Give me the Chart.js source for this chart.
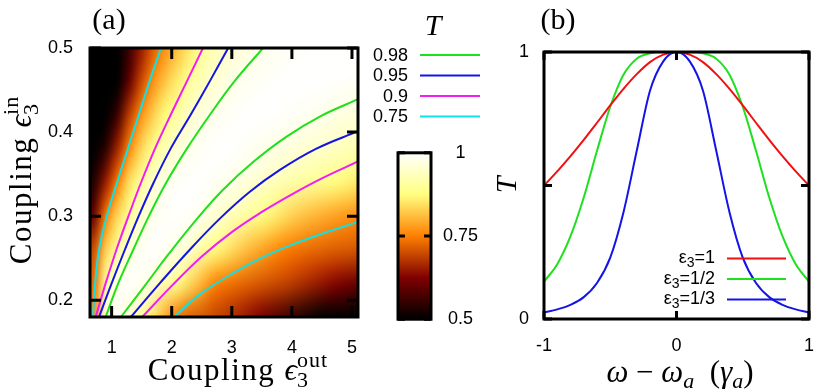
<!DOCTYPE html>
<html>
<head>
<meta charset="utf-8">
<script src="https://cdn.jsdelivr.net/npm/chart.js@4.4.1/dist/chart.umd.min.js"></script>
<style>
  body { margin: 0; background: #fff; }
  #wrap { position: relative; width: 830px; height: 392px; overflow: hidden; }
  canvas { position: absolute; }
</style>
</head>
<body>
<div id="wrap">
  <canvas id="mapA" width="490" height="392" style="left:0;top:0"></canvas>
  <canvas id="barA" width="110" height="212" style="left:380px;top:130px"></canvas>
  <canvas id="specB" width="340" height="392" style="left:490px;top:0"></canvas>
</div>
<script>
// ---- panel (a): transmission map T(eps_out, eps_in) ----
const couplingOut = [0.7, 0.9, 1.1, 1.3, 1.5, 1.7, 1.9, 2.1, 2.3, 2.5, 2.7, 2.9, 3.1, 3.3, 3.5, 3.7, 3.9, 4.1, 4.3, 4.5, 4.7, 4.9, 5.1];
const couplingIn = [0.18, 0.22, 0.26, 0.30, 0.34, 0.38, 0.42, 0.46, 0.50];

// one row of T per couplingIn value
const tIn018 = [0.76, 0.978, 0.99, 0.955, 0.902, 0.85, 0.79, 0.74, 0.72, 0.71, 0.695, 0.68, 0.66, 0.64, 0.615, 0.59, 0.565, 0.54, 0.515, 0.495, 0.48, 0.465, 0.45];
const tIn022 = [0.73, 0.90, 0.98, 0.998, 0.985, 0.96, 0.92, 0.885, 0.84, 0.80, 0.755, 0.74, 0.73, 0.72, 0.71, 0.70, 0.69, 0.675, 0.66, 0.645, 0.63, 0.615, 0.60];
const tIn026 = [0.70, 0.83, 0.905, 0.965, 0.99, 0.999, 0.988, 0.97, 0.948, 0.91, 0.88, 0.855, 0.83, 0.805, 0.785, 0.765, 0.748, 0.738, 0.73, 0.724, 0.718, 0.714, 0.71];
const tIn030 = [0.60, 0.745, 0.84, 0.90, 0.952, 0.981, 0.995, 0.999, 0.992, 0.978, 0.958, 0.94, 0.922, 0.90, 0.88, 0.86, 0.84, 0.822, 0.807, 0.795, 0.783, 0.773, 0.764];
const tIn034 = [0.53, 0.65, 0.75, 0.85, 0.905, 0.95, 0.98, 0.993, 0.999, 0.997, 0.99, 0.982, 0.972, 0.96, 0.948, 0.933, 0.92, 0.91, 0.90, 0.89, 0.878, 0.867, 0.856];
const tIn038 = [0.47, 0.54, 0.66, 0.76, 0.84, 0.89, 0.93, 0.958, 0.981, 0.992, 0.998, 1.0, 0.995, 0.988, 0.981, 0.975, 0.968, 0.96, 0.953, 0.946, 0.938, 0.93, 0.922];
const tIn042 = [0.45, 0.48, 0.56, 0.69, 0.77, 0.83, 0.875, 0.91, 0.945, 0.968, 0.982, 0.99, 0.996, 0.999, 1.0, 0.998, 0.994, 0.99, 0.985, 0.98, 0.974, 0.968, 0.962];
const tIn046 = [0.45, 0.46, 0.50, 0.60, 0.70, 0.77, 0.82, 0.86, 0.90, 0.93, 0.953, 0.97, 0.982, 0.988, 0.993, 0.996, 0.998, 0.999, 1.0, 1.0, 0.998, 0.995, 0.991];
const tIn050 = [0.45, 0.45, 0.47, 0.56, 0.65, 0.72, 0.77, 0.81, 0.855, 0.898, 0.925, 0.947, 0.96, 0.972, 0.98, 0.985, 0.99, 0.993, 0.995, 0.997, 0.998, 0.999, 0.999];
const transmission = [tIn018, tIn022, tIn026, tIn030, tIn034, tIn038, tIn042, tIn046, tIn050];

// contour lines, [eps_out, eps_in] pairs
const lvl98Left = [[0.90, 0.18], [1.11, 0.22], [1.36, 0.26], [1.62, 0.30], [1.91, 0.34], [2.25, 0.38], [2.63, 0.42], [3.04, 0.46], [3.52, 0.50]];
const lvl98Right = [[1.154, 0.18], [1.56, 0.218], [1.95, 0.255], [2.4, 0.295], [2.85, 0.331], [3.35, 0.364], [3.9, 0.394], [4.48, 0.419], [5.1, 0.439]];
const lvl95Left = [[0.79, 0.18], [1.0, 0.22], [1.22, 0.26], [1.45, 0.30], [1.70, 0.34], [1.98, 0.38], [2.31, 0.42], [2.63, 0.46], [2.94, 0.50]];
const lvl95Right = [[1.32, 0.18], [1.8, 0.22], [2.3, 0.26], [2.8, 0.297], [3.3, 0.329], [3.8, 0.355], [4.4, 0.38], [5.1, 0.401]];
const lvl90Left = [[0.735, 0.18], [0.90, 0.22], [1.08, 0.26], [1.28, 0.30], [1.49, 0.34], [1.72, 0.38], [1.98, 0.42], [2.25, 0.46], [2.52, 0.50]];
const lvl90Right = [[1.51, 0.18], [2.0, 0.217], [2.5, 0.252], [3.0, 0.281], [3.5, 0.305], [4.0, 0.326], [4.5, 0.345], [5.1, 0.365]];
const lvl75Left = [[0.69, 0.18], [0.725, 0.22], [0.79, 0.26], [0.92, 0.30], [1.09, 0.34], [1.27, 0.38], [1.45, 0.42], [1.63, 0.46], [1.82, 0.50]];
const lvl75Right = [[2.04, 0.18], [2.45, 0.206], [2.9, 0.227], [3.4, 0.247], [3.93, 0.264], [4.5, 0.279], [5.1, 0.293]];

const levelLabels = ['0.98', '0.95', '0.9', '0.75'];
const levelColors = ['#1fe01f', '#1414e6', '#f01ef0', '#14e0e0'];
const levelLines = [[lvl98Left, lvl98Right], [lvl95Left, lvl95Right], [lvl90Left, lvl90Right], [lvl75Left, lvl75Right]];

const outTicks = [1, 2, 3, 4, 5];
const inTicks = [0.2, 0.3, 0.4, 0.5];
const barTicks = [0.5, 0.75, 1];

// ---- panel (b): transmission spectra ----
const detuning = [-1, -0.9, -0.8, -0.7, -0.6, -0.5, -0.4, -0.3, -0.2, -0.1, 0, 0.1, 0.2, 0.3, 0.4, 0.5, 0.6, 0.7, 0.8, 0.9, 1];
const tEps1 = [0.5, 0.553, 0.61, 0.671, 0.735, 0.8, 0.862, 0.917, 0.962, 0.99, 1, 0.99, 0.962, 0.917, 0.862, 0.8, 0.735, 0.671, 0.61, 0.553, 0.5];
const tEpsHalf = [0.14, 0.205, 0.31, 0.455, 0.63, 0.795, 0.915, 0.975, 0.995, 1.0, 1.0, 1.0, 0.995, 0.975, 0.915, 0.795, 0.63, 0.455, 0.31, 0.205, 0.14];
const tEpsThird = [0.025, 0.036, 0.053, 0.082, 0.135, 0.23, 0.40, 0.63, 0.855, 0.965, 1, 0.965, 0.855, 0.63, 0.40, 0.23, 0.135, 0.082, 0.053, 0.036, 0.025];
const specLabels = ['1', '1/2', '1/3'];
const specColors = ['#f01010', '#1fe01f', '#1414e6'];
const detTicks = [-1, 0, 1];
const tTicks = [0, 1];
const tMarks = [0, 0.5, 1];

const SERIF = '"Liberation Serif", "DejaVu Serif", serif';
const SANS = '"Liberation Sans", Arial, sans-serif';
Chart.defaults.font.family = SANS;
Chart.defaults.font.size = 18;
Chart.defaults.color = '#000';

function afmhot(t) {
  const c = Math.min(1, Math.max(0, (t - 0.5) / 0.5));
  const f = (v) => Math.round(255 * Math.min(1, Math.max(0, v)));
  return [f(2 * c), f(2 * c - 0.5), f(2 * c - 1)];
}

// text pieces with sub/superscripts; a "stack" piece shares its x with the next one
function drawMath(ctx, pieces, x, y, align) {
  let pos = 0;
  let stackW = null;
  const placed = pieces.map((p) => {
    ctx.font = p.f;
    ctx.letterSpacing = p.ls || '0px';
    const w = ctx.measureText(p.t).width;
    const at = pos;
    if (p.stack) {
      stackW = w;
    } else {
      pos += stackW !== null ? Math.max(w, stackW) : w;
      stackW = null;
    }
    return { ...p, at };
  });
  const start = align === 'center' ? x - pos / 2 : align === 'right' ? x - pos : x;
  ctx.textAlign = 'left';
  placed.forEach((p) => {
    ctx.font = p.f;
    ctx.letterSpacing = p.ls || '0px';
    ctx.fillText(p.t, start + p.at, y + (p.dy || 0));
  });
  ctx.letterSpacing = '0px';
}

function fixedTicks(values) {
  return (scale) => {
    scale.ticks = values.map((v) => ({ value: v }));
  };
}
const plainLabel = (v) => String(v);

function heatImage() {
  const nx = couplingOut.length;
  const ny = couplingIn.length;
  const off = document.createElement('canvas');
  off.width = nx;
  off.height = ny;
  const octx = off.getContext('2d');
  const img = octx.createImageData(nx, ny);
  for (let r = 0; r < ny; r++) {
    const row = transmission[ny - 1 - r];
    for (let c = 0; c < nx; c++) {
      const [R, G, B] = afmhot(row[c]);
      const k = 4 * (r * nx + c);
      img.data[k] = R;
      img.data[k + 1] = G;
      img.data[k + 2] = B;
      img.data[k + 3] = 255;
    }
  }
  octx.putImageData(img, 0, 0);
  return off;
}

const mapPlugin = {
  id: 'mapPlugin',
  beforeDatasetsDraw(chart) {
    const { ctx, chartArea: a, scales: { x, y } } = chart;
    const hx = (couplingOut[1] - couplingOut[0]) / 2;
    const hy = (couplingIn[1] - couplingIn[0]) / 2;
    const left = x.getPixelForValue(couplingOut[0] - hx);
    const right = x.getPixelForValue(couplingOut[couplingOut.length - 1] + hx);
    const top = y.getPixelForValue(couplingIn[couplingIn.length - 1] + hy);
    const bottom = y.getPixelForValue(couplingIn[0] - hy);
    ctx.save();
    ctx.beginPath();
    ctx.rect(a.left, a.top, a.right - a.left, a.bottom - a.top);
    ctx.clip();
    ctx.imageSmoothingEnabled = true;
    ctx.imageSmoothingQuality = 'high';
    ctx.drawImage(heatImage(), left, top, right - left, bottom - top);
    ctx.restore();
  },
  afterDatasetsDraw(chart) {
    const { ctx, chartArea: a, scales: { x, y } } = chart;
    ctx.save();
    ctx.strokeStyle = '#000';
    ctx.lineWidth = 3;
    ctx.beginPath();
    outTicks.forEach((v) => {
      const px = x.getPixelForValue(v);
      ctx.moveTo(px, a.bottom); ctx.lineTo(px, a.bottom - 11);
      ctx.moveTo(px, a.top); ctx.lineTo(px, a.top + 11);
    });
    inTicks.forEach((v) => {
      const py = y.getPixelForValue(v);
      ctx.moveTo(a.left, py); ctx.lineTo(a.left + 11, py);
      ctx.moveTo(a.right, py); ctx.lineTo(a.right - 11, py);
    });
    ctx.stroke();
    ctx.strokeRect(a.left, a.top, a.right - a.left, a.bottom - a.top);
    ctx.restore();
  },
  afterDraw(chart) {
    const { ctx } = chart;
    ctx.save();
    ctx.fillStyle = '#000';
    ctx.textBaseline = 'alphabetic';
    ctx.font = `30px ${SERIF}`;
    ctx.textAlign = 'center';
    ctx.fillText('(a)', 109, 29);
    const title = (sup) => [
      { t: 'Coupling ', f: `31px ${SERIF}`, ls: '1.5px' },
      { t: 'ϵ', f: `italic 31px ${SERIF}` },
      { t: '3', f: `22px ${SERIF}`, dy: 7, stack: true },
      { t: sup, f: `22px ${SERIF}`, dy: -13, ls: '1px' },
    ];
    drawMath(ctx, title('out'), 238, 380, 'center');
    ctx.save();
    ctx.translate(31, 180);
    ctx.rotate(-Math.PI / 2);
    drawMath(ctx, title('in'), 0, 0, 'center');
    ctx.restore();
    // legend of the contour levels
    ctx.font = `italic 30px ${SERIF}`;
    ctx.textAlign = 'center';
    ctx.fillText('T', 433, 35);
    ctx.font = `18px ${SANS}`;
    ctx.textAlign = 'right';
    ctx.textBaseline = 'middle';
    levelLabels.forEach((lab, i) => {
      const ly = 55 + i * 20.5;
      ctx.fillText(lab, 408, ly + 1);
      ctx.strokeStyle = levelColors[i];
      ctx.lineWidth = 2;
      ctx.beginPath();
      ctx.moveTo(420, ly);
      ctx.lineTo(480, ly);
      ctx.stroke();
    });
    ctx.restore();
  },
};

const mapDatasets = [];
levelLines.forEach((pair, i) => {
  pair.forEach((pts) => {
    mapDatasets.push({
      label: levelLabels[i],
      data: pts.map(([px, py]) => ({ x: px, y: py })),
      showLine: true,
      borderColor: levelColors[i],
      borderWidth: 2,
      pointRadius: 0,
      tension: 0.4,
    });
  });
});

new Chart(document.getElementById('mapA'), {
  type: 'scatter',
  data: { datasets: mapDatasets },
  options: {
    responsive: false,
    animation: false,
    devicePixelRatio: 1,
    layout: { padding: { top: 48, right: 132, left: 0, bottom: 0 } },
    plugins: { legend: { display: false }, tooltip: { enabled: false } },
    scales: {
      x: {
        type: 'linear', min: 0.64, max: 5.1,
        grid: { display: false, drawTicks: false }, border: { display: false },
        afterBuildTicks: fixedTicks(outTicks),
        afterFit: (s) => { s.height = 75; },
        ticks: { padding: 20, maxRotation: 0, autoSkip: false, callback: plainLabel },
      },
      y: {
        type: 'linear', min: 0.18, max: 0.5,
        grid: { display: false, drawTicks: false }, border: { display: false },
        afterBuildTicks: fixedTicks(inTicks),
        afterFit: (s) => { s.width = 90; },
        ticks: { padding: 17, autoSkip: false, callback: plainLabel },
      },
    },
  },
  plugins: [mapPlugin],
});

// ---- colour bar ----
const barFrame = {
  id: 'barFrame',
  afterDatasetsDraw(chart) {
    const { ctx, chartArea: a, scales: { y } } = chart;
    ctx.save();
    ctx.strokeStyle = '#000';
    ctx.lineWidth = 3;
    ctx.beginPath();
    barTicks.forEach((v) => {
      const py = y.getPixelForValue(v);
      ctx.moveTo(a.left, py); ctx.lineTo(a.left + 7, py);
      ctx.moveTo(a.right, py); ctx.lineTo(a.right - 7, py);
    });
    ctx.stroke();
    ctx.strokeRect(a.left, a.top, a.right - a.left, a.bottom - a.top);
    ctx.restore();
  },
};

new Chart(document.getElementById('barA'), {
  type: 'bar',
  data: {
    labels: ['T'],
    datasets: [{
      data: [[barTicks[0], barTicks[barTicks.length - 1]]],
      backgroundColor: (context) => {
        const { ctx, chartArea, scales } = context.chart;
        if (!chartArea) return '#fff';
        const y0 = scales.y.getPixelForValue(0.5);
        const y1 = scales.y.getPixelForValue(1);
        const g = ctx.createLinearGradient(0, y0, 0, y1);
        for (let i = 0; i <= 20; i++) {
          const [r, gg, b] = afmhot(0.5 + i * 0.025);
          g.addColorStop(i / 20, `rgb(${r},${gg},${b})`);
        }
        return g;
      },
      borderWidth: 0,
      barPercentage: 1,
      categoryPercentage: 1,
    }],
  },
  options: {
    responsive: false,
    animation: false,
    devicePixelRatio: 1,
    layout: { padding: { top: 12, bottom: 14, left: 18, right: 0 } },
    plugins: { legend: { display: false }, tooltip: { enabled: false } },
    scales: {
      x: { display: false },
      y: {
        position: 'right', min: 0.5, max: 1,
        grid: { display: false, drawTicks: false }, border: { display: false },
        afterBuildTicks: fixedTicks(barTicks),
        afterFit: (s) => { s.width = 59; },
        ticks: { padding: 12, crossAlign: 'center', autoSkip: false, callback: plainLabel },
      },
    },
  },
  plugins: [barFrame],
});

// ---- panel (b) ----
const specPlugin = {
  id: 'specPlugin',
  afterDatasetsDraw(chart) {
    const { ctx, chartArea: a, scales: { x, y } } = chart;
    ctx.save();
    ctx.strokeStyle = '#000';
    ctx.lineWidth = 3;
    ctx.beginPath();
    detTicks.forEach((v) => {
      const px = x.getPixelForValue(v);
      ctx.moveTo(px, a.bottom); ctx.lineTo(px, a.bottom - 8);
      ctx.moveTo(px, a.top); ctx.lineTo(px, a.top + 8);
    });
    tMarks.forEach((v) => {
      const py = y.getPixelForValue(v);
      ctx.moveTo(a.left, py); ctx.lineTo(a.left + 8, py);
      ctx.moveTo(a.right, py); ctx.lineTo(a.right - 8, py);
    });
    ctx.stroke();
    ctx.strokeRect(a.left, a.top, a.right - a.left, a.bottom - a.top);
    ctx.restore();
  },
  afterDraw(chart) {
    const { ctx } = chart;
    ctx.save();
    ctx.fillStyle = '#000';
    ctx.textBaseline = 'alphabetic';
    ctx.font = `30px ${SERIF}`;
    ctx.textAlign = 'center';
    ctx.fillText('(b)', 68, 29);
    drawMath(ctx, [
      { t: 'ω', f: `italic 31px ${SERIF}` },
      { t: ' − ', f: `31px ${SERIF}` },
      { t: 'ω', f: `italic 31px ${SERIF}` },
      { t: 'a', f: `italic 22px ${SERIF}`, dy: 6 },
      { t: '  (', f: `31px ${SERIF}` },
      { t: 'γ', f: `italic 31px ${SERIF}` },
      { t: 'a', f: `italic 22px ${SERIF}`, dy: 6 },
      { t: ')', f: `31px ${SERIF}` },
    ], 190, 382, 'center');
    ctx.save();
    ctx.translate(26, 185);
    ctx.rotate(-Math.PI / 2);
    ctx.font = `italic 30px ${SERIF}`;
    ctx.textAlign = 'center';
    ctx.fillText('T', 0, 0);
    ctx.restore();
    // legend
    ctx.textBaseline = 'middle';
    specLabels.forEach((lab, i) => {
      const ly = 258.5 + i * 20.5;
      ctx.fillStyle = '#000';
      drawMath(ctx, [
        { t: 'ε', f: `18px ${SANS}` },
        { t: '3', f: `14px ${SANS}`, dy: 5 },
        { t: '=' + lab, f: `18px ${SANS}` },
      ], 225, ly, 'right');
      ctx.strokeStyle = specColors[i];
      ctx.lineWidth = 2;
      ctx.beginPath();
      ctx.moveTo(237, ly);
      ctx.lineTo(296, ly);
      ctx.stroke();
    });
    ctx.restore();
  },
};

new Chart(document.getElementById('specB'), {
  type: 'scatter',
  data: {
    datasets: [tEps1, tEpsHalf, tEpsThird].map((vals, i) => ({
      label: 'ε3=' + specLabels[i],
      data: detuning.map((d, k) => ({ x: d, y: vals[k] })),
      showLine: true,
      borderColor: specColors[i],
      borderWidth: 2,
      pointRadius: 0,
      cubicInterpolationMode: 'monotone',
    })),
  },
  options: {
    responsive: false,
    animation: false,
    devicePixelRatio: 1,
    layout: { padding: { top: 52, right: 21, left: 0, bottom: 0 } },
    plugins: { legend: { display: false }, tooltip: { enabled: false } },
    scales: {
      x: {
        type: 'linear', min: -1, max: 1,
        grid: { display: false, drawTicks: false }, border: { display: false },
        afterBuildTicks: fixedTicks(detTicks),
        afterFit: (s) => { s.height = 73; },
        ticks: { padding: 16, maxRotation: 0, autoSkip: false, callback: plainLabel },
      },
      y: {
        type: 'linear', min: 0, max: 1,
        grid: { display: false, drawTicks: false }, border: { display: false },
        afterBuildTicks: fixedTicks(tTicks),
        afterFit: (s) => { s.width = 54; },
        ticks: { padding: 15, autoSkip: false, callback: plainLabel },
      },
    },
  },
  plugins: [specPlugin],
});
</script>
</body>
</html>
